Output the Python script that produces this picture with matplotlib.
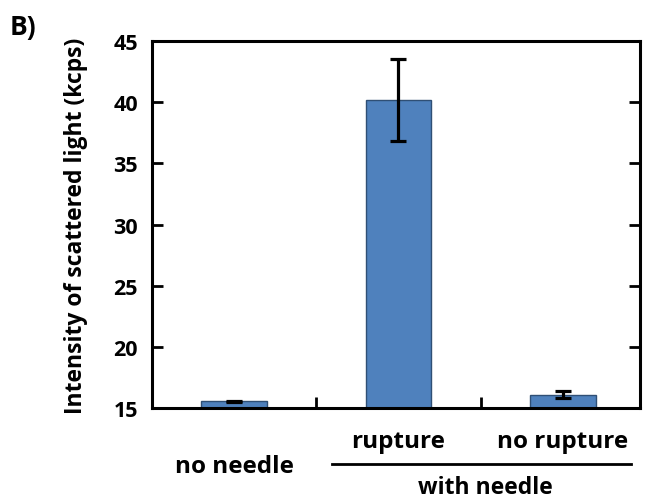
import matplotlib
matplotlib.use("Agg")
import matplotlib.pyplot as plt
import matplotlib.transforms as mtransforms
from matplotlib.lines import Line2D

categories = ["no needle", "rupture", "no rupture"]
values = [15.55, 40.2, 16.1]
errors = [0.05, 3.35, 0.3]
yticks = [15, 20, 25, 30, 35, 40, 45]
group_label = "with needle"
ylabel = "Intensity of scattered light (kcps)"
panel = "B)"

plt.rcParams['font.family'] = ['Open Sans', 'DejaVu Sans']
plt.rcParams['font.weight'] = 'bold'

fig = plt.figure(figsize=(6.46, 5.02), dpi=100)
ax = fig.add_axes([152/646, 1-409/502, (640-152)/646, (409-42)/502])

x = list(range(len(categories)))
ax.bar(x, [v - 15 for v in values], bottom=15, width=0.40, color="#4F81BD",
       edgecolor="#2F4F75", linewidth=1.0, zorder=2)
ax.errorbar(x, values, yerr=errors, fmt='none', ecolor='black', elinewidth=2.3,
            capsize=5.5, capthick=2.3, zorder=3)

ax.set_xlim(-0.5, 2.47)
ax.set_ylim(15, 45)
ax.set_yticks(yticks)
ax.set_yticklabels([str(t) for t in yticks], fontsize=15.5, fontweight='bold')
ax.set_xticks([0.5, 1.5])
ax.set_xticklabels([])
ax.tick_params(axis='y', direction='in', length=8, width=2, left=True, right=True, pad=10)
ax.tick_params(axis='x', direction='in', length=8, width=2, bottom=True, top=False)
for s in ax.spines.values():
    s.set_linewidth(2.2)

ax.set_ylabel(ylabel, fontsize=16.5, fontweight='bold')
ax.yaxis.set_label_coords(-0.131, 0.5)

trans = mtransforms.blended_transform_factory(ax.transData, fig.transFigure)
ax.text(0, 1-467/502, categories[0], transform=trans, ha='center', va='center',
        fontsize=17.5, fontweight='bold')
ax.text(1, 1-442/502, categories[1], transform=trans, ha='center', va='center',
        fontsize=17.5, fontweight='bold')
ax.text(2, 1-442/502, categories[2], transform=trans, ha='center', va='center',
        fontsize=17.5, fontweight='bold')
ax.add_line(Line2D([0.595, 2.417], [1-465/502, 1-465/502], transform=trans,
                   color='black', linewidth=2, clip_on=False))
ax.text(1.53, 1-494/502, group_label, transform=trans, ha='center', va='baseline',
        fontsize=16.5, fontweight='bold')

fig.text(10/646, 1-27/502, panel, ha='left', va='center', fontsize=19, fontweight='bold')

fig.savefig("out.png", dpi=100)
